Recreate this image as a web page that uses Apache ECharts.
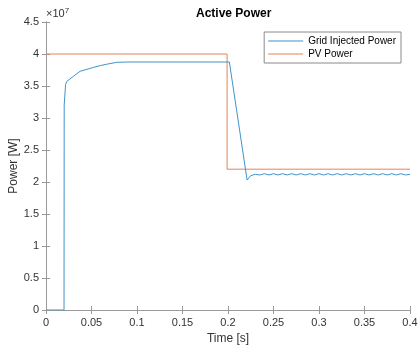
<!DOCTYPE html>
<html>
<head>
<meta charset="utf-8">
<script src="https://cdn.jsdelivr.net/npm/echarts@6/dist/echarts.min.js"></script>
<style>
html,body{margin:0;padding:0;background:#fff;}
#chart{width:419px;height:349px;}
</style>
</head>
<body>
<div id="chart"></div>
<script>
// Time stamps [s] and active power [W] for the grid-injected output
const gridTime = [0, 0.0198, 0.0200, 0.0215, 0.0227, 0.030, 0.0374, 0.045, 0.052, 0.060, 0.0667, 0.0777, 0.090, 0.120, 0.150, 0.180, 0.2015, 0.2210,
  0.2250, 0.2300, 0.2350, 0.2400, 0.2450, 0.2500, 0.2550, 0.2600, 0.2650, 0.2700, 0.2750, 0.2800, 0.2850, 0.2900, 0.2950, 0.3000,
  0.3050, 0.3100, 0.3150, 0.3200, 0.3250, 0.3300, 0.3350, 0.3400, 0.3450, 0.3500, 0.3550, 0.3600, 0.3650, 0.3700, 0.3750, 0.3800,
  0.3850, 0.3900, 0.3950, 0.4000];
const gridPower = [0, 0, 3.20e7, 3.52e7, 3.57e7, 3.65e7, 3.73e7, 3.76e7, 3.79e7, 3.82e7, 3.84e7, 3.87e7, 3.875e7, 3.875e7, 3.875e7, 3.875e7, 3.875e7, 2.03e7,
  2.10e7, 2.12e7, 2.11e7, 2.13e7, 2.11e7, 2.13e7, 2.11e7, 2.13e7, 2.11e7, 2.13e7, 2.11e7, 2.13e7, 2.11e7, 2.13e7, 2.11e7, 2.13e7,
  2.11e7, 2.13e7, 2.11e7, 2.13e7, 2.11e7, 2.13e7, 2.11e7, 2.13e7, 2.11e7, 2.13e7, 2.11e7, 2.13e7, 2.11e7, 2.13e7, 2.11e7, 2.13e7,
  2.11e7, 2.13e7, 2.11e7, 2.12e7];

// PV array power [W]
const pvTime = [0, 0.199, 0.199, 0.4];
const pvPower = [4.0e7, 4.0e7, 2.2e7, 2.2e7];

// Axis ticks
const xTicks = [0, 0.05, 0.1, 0.15, 0.2, 0.25, 0.3, 0.35, 0.4];
const yTickLabels = ['0', '0.5', '1', '1.5', '2', '2.5', '3', '3.5', '4', '4.5'];

const seriesNames = ['Grid Injected Power', 'PV Power'];
const FONT = '"Liberation Sans", Arial, sans-serif';
const frameColor = '#9a9a9a';
const labelColor = '#333';
const lineIcon = 'path://M0,0 L40,0 L40,1.2 L0,1.2 Z';

const zip = (a, b) => a.map((v, i) => [v, b[i]]);

const chart = echarts.init(document.getElementById('chart'), null, {renderer: 'canvas'});

const commonX = {
  type: 'value', min: xTicks[0], max: xTicks[xTicks.length - 1], interval: 0.05,
  axisLine: {show: true, lineStyle: {color: frameColor, width: 1}},
  axisTick: {show: true, inside: true, length: 4, lineStyle: {color: frameColor}},
  splitLine: {show: false}
};
const commonY = {
  type: 'value', min: 0, max: 4.5e7, interval: 0.5e7,
  axisLine: {show: true, lineStyle: {color: frameColor, width: 1}},
  axisTick: {show: true, inside: true, length: 4, lineStyle: {color: frameColor}},
  splitLine: {show: false}
};

chart.setOption({
  animation: false,
  backgroundColor: '#fff',
  textStyle: {fontFamily: FONT},
  title: {
    text: 'Active Power', left: 191, top: 3,
    textStyle: {fontFamily: FONT, fontSize: 12, fontWeight: 'bold', color: '#000'}
  },
  grid: {left: 46, right: 9, top: 22, bottom: 39, containLabel: false, outerBoundsMode: 'none'},
  legend: {
    orient: 'vertical', right: 18, top: 32,
    backgroundColor: '#fff', borderColor: '#8a8a8a', borderWidth: 1,
    padding: [4, 5, 4, 4], itemGap: 3, itemWidth: 35, itemHeight: 8,
    textStyle: {fontFamily: FONT, fontSize: 10, color: '#000'},
    data: [
      {name: seriesNames[0], icon: lineIcon},
      {name: seriesNames[1], icon: lineIcon}
    ]
  },
  xAxis: [
    Object.assign({}, commonX, {
      position: 'bottom',
      name: 'Time [s]', nameLocation: 'middle', nameGap: 23, nameMoveOverlap: false,
      nameTextStyle: {fontFamily: FONT, fontSize: 12, color: labelColor},
      axisLabel: {fontFamily: FONT, fontSize: 11, color: labelColor, margin: 7,
        formatter: v => String(+v.toFixed(2))}
    }),
    Object.assign({}, commonX, {position: 'top', axisLabel: {show: false}})
  ],
  yAxis: [
    Object.assign({}, commonY, {
      position: 'left',
      name: 'Power [W]', nameLocation: 'middle', nameGap: 26, nameRotate: 90, nameMoveOverlap: false,
      nameTextStyle: {fontFamily: FONT, fontSize: 12, color: labelColor},
      axisLabel: {fontFamily: FONT, fontSize: 11, color: labelColor, margin: 7,
        formatter: v => yTickLabels[Math.round(v / 0.5e7)]}
    }),
    Object.assign({}, commonY, {position: 'right', axisLabel: {show: false}})
  ],
  graphic: [{
    type: 'text', left: 46, top: 7,
    style: {
      text: '{a|×10}{b|7}',
      rich: {
        a: {fontFamily: FONT, fontSize: 11, fill: labelColor},
        b: {fontFamily: FONT, fontSize: 8, fill: labelColor, verticalAlign: 'top', padding: [0, 0, 6, 0]}
      }
    }
  }],
  series: [
    {
      name: seriesNames[0], type: 'line', showSymbol: false, symbol: 'none',
      data: zip(gridTime, gridPower),
      lineStyle: {color: '#3f93cc', width: 1}, itemStyle: {color: '#3f93cc'}, z: 3
    },
    {
      name: seriesNames[1], type: 'line', showSymbol: false, symbol: 'none',
      data: zip(pvTime, pvPower),
      lineStyle: {color: '#e0845a', width: 1}, itemStyle: {color: '#e0845a'}, z: 2
    }
  ]
});
</script>
</body>
</html>
